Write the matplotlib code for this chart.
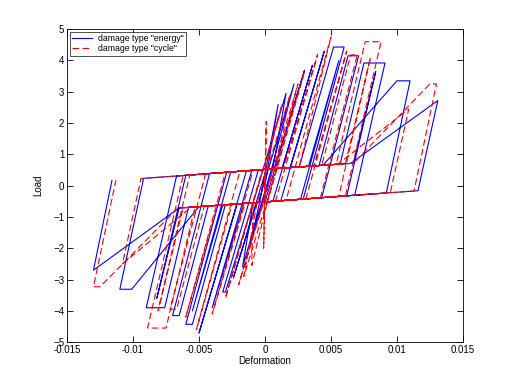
import matplotlib
matplotlib.use("Agg")
import matplotlib.pyplot as plt
import numpy as np

plt.rcParams['font.family'] = ['Liberation Sans', 'DejaVu Sans']

# pinched branch (upper); lower one is its mirror
pinch_x = [-0.013, -0.006, 0.0, 0.006, 0.013]
pinch_y = [0.12, 0.33, 0.52, 0.70, 0.85]

# damage type "energy" : cycle peaks
en_dp = [0.0010, 0.0016, 0.0022, 0.0030, 0.0036, 0.0045, 0.0060, 0.0056, 0.0071, 0.0091, 0.0084, 0.0110, 0.0131]
en_fp = [2.60, 2.95, 3.25, 3.69, 3.85, 4.30, 4.43, 4.00, 4.15, 3.92, 3.65, 3.35, 2.72]
en_wp = [0, 0, 0, 0, 0, 0, 0.0008, 0, 0.0008, 0.0016, 0, 0.0010, 0]
en_kp = [0.0, -0.0002, 0.0002, 0.0007, 0.0013, 0.0019, 0.0026, 0.0033, 0.0041, 0.0057, 0.0067, 0.0044, 0.0065]
en_ue = [-0.0004, -0.0009, -0.0005, 0.0000, 0.0006, 0.0012, 0.0029, 0.0027, 0.0043, 0.0068, 0.0062, 0.0092, 0.0116]
en_dn = [-0.0012, -0.0017, -0.0024, -0.0032, -0.0040, -0.0050, -0.0060, -0.0055, -0.0070, -0.0090, -0.0082, -0.0110, -0.0130]
en_fn = [-2.00, -2.60, -2.95, -3.40, -3.90, -4.71, -4.43, -4.00, -4.15, -3.90, -3.60, -3.31, -2.70]
en_wn = [0, 0, 0, 0.0002, 0, 0, 0.0005, 0, 0.0005, 0.0014, 0, 0.0009, 0]
en_kn = [0.0, -0.0002, -0.0006, -0.0009, -0.0016, -0.0021, -0.0030, -0.0032, -0.0043, -0.0058, -0.0065, -0.0050, -0.0065]
en_ne = [0.0006, 0.0005, 0.0001, -0.0005, -0.0010, -0.0014, -0.0029, -0.0026, -0.0042, -0.0067, -0.0060, -0.0092, -0.0116]

# damage type "cycle"
cy_dp = [0.0001, 0.0013, 0.0019, 0.0025, 0.0030, 0.0040, 0.0050, 0.0062, 0.0070, 0.0088, 0.0080, 0.0109, 0.0130]
cy_fp = [2.05, 2.60, 2.90, 3.25, 3.65, 4.20, 4.75, 4.30, 4.18, 4.60, 4.10, 2.45, 3.25]
cy_wp = [0, 0, 0, 0, 0, 0, 0, 0, 0.0005, 0.0012, 0, 0, 0.0005]
cy_kp = [0.0, -0.0002, 0.0001, 0.0005, 0.0008, 0.0014, 0.0026, 0.0037, 0.0043, 0.0054, 0.0061, 0.0055, 0.0067]
cy_ue = [0.0, -0.0009, -0.0006, -0.0001, 0.0002, 0.0008, 0.0016, 0.0031, 0.0042, 0.0061, 0.0056, 0.0095, 0.0113]
cy_dn = [-0.0001, -0.0010, -0.0016, -0.0020, -0.0030, -0.0040, -0.0052, -0.0060, -0.0072, -0.0089, -0.0081, -0.0108, -0.0130]
cy_fn = [-2.00, -2.55, -2.90, -3.17, -3.60, -4.10, -4.60, -4.20, -3.95, -4.55, -4.00, -2.50, -3.23]
cy_wn = [0, 0, 0, 0, 0, 0, 0, 0, 0.0005, 0.0014, 0, 0, 0.0005]
cy_kn = [0.0, 0.0005, 0.0002, -0.0001, -0.0009, -0.0015, -0.0025, -0.0036, -0.0046, -0.0053, -0.0062, -0.0056, -0.0066]
cy_ne = [0.0, 0.0008, 0.0009, 0.0006, -0.0002, -0.0009, -0.0019, -0.0030, -0.0045, -0.0062, -0.0057, -0.0094, -0.0113]


def up(x):
    return np.interp(x, pinch_x, pinch_y)

def lo(x):
    return -np.interp(-x, pinch_x, pinch_y)

def along(xs, ys, x0, x1, f):
    # follow a pinched branch from x0 to x1
    inner = [p for p in pinch_x if min(x0, x1) < p < max(x0, x1)]
    inner = sorted(inner, reverse=x1 < x0)
    for p in inner + [x1]:
        xs.append(p)
        ys.append(f(p))

def history(dp, fp, wp, kp, ue, dn, fn, wn, kn, ne):
    xs, ys = [0.0], [0.0]
    for i in range(len(dp)):
        if kp[i] > xs[-1] and i > 0:
            along(xs, ys, xs[-1], kp[i], up)
        xs.append(dp[i] - wp[i]); ys.append(fp[i])
        if wp[i]:
            xs.append(dp[i]); ys.append(fp[i])
        xs.append(ue[i]); ys.append(lo(ue[i]))
        if kn[i] < xs[-1]:
            along(xs, ys, xs[-1], kn[i], lo)
        xs.append(dn[i] + wn[i]); ys.append(fn[i])
        if wn[i]:
            xs.append(dn[i]); ys.append(fn[i])
        xs.append(ne[i]); ys.append(up(ne[i]))
    return xs, ys


fig = plt.figure(figsize=(5.12, 3.84), dpi=100)
ax = fig.add_axes([0.131, 0.109, 0.773, 0.815])

x1, y1 = history(en_dp, en_fp, en_wp, en_kp, en_ue, en_dn, en_fn, en_wn, en_kn, en_ne)
x2, y2 = history(cy_dp, cy_fp, cy_wp, cy_kp, cy_ue, cy_dn, cy_fn, cy_wn, cy_kn, cy_ne)
ax.plot(x1, y1, color='#0000ff', lw=0.8, label='damage type "energy"')
ax.plot(x2, y2, color='#ff0000', lw=0.8, dashes=(6, 3), label='damage type "cycle"')

ax.set_xlim(-0.015, 0.015)
ax.set_ylim(-5, 5)
ax.set_xticks([-0.015, -0.01, -0.005, 0, 0.005, 0.01, 0.015])
ax.set_xticklabels(['-0.015', '-0.01', '-0.005', '0', '0.005', '0.01', '0.015'])
ax.set_yticks(range(-5, 6))
ax.tick_params(direction='in', top=True, right=True, labelsize=7, length=4, width=0.6, pad=2)
for s in ax.spines.values():
    s.set_linewidth(0.6)
ax.set_xlabel('Deformation', fontsize=7, labelpad=1)
ax.set_ylabel('Load', fontsize=7, labelpad=7)

leg = ax.legend(loc='upper left', fontsize=6.3, frameon=True, fancybox=False,
                borderpad=0.3, handlelength=2.3, labelspacing=0.1,
                borderaxespad=0.3, handletextpad=0.6)
leg.get_frame().set_edgecolor('black')
leg.get_frame().set_linewidth(0.6)

fig.savefig('out.png', dpi=100)
